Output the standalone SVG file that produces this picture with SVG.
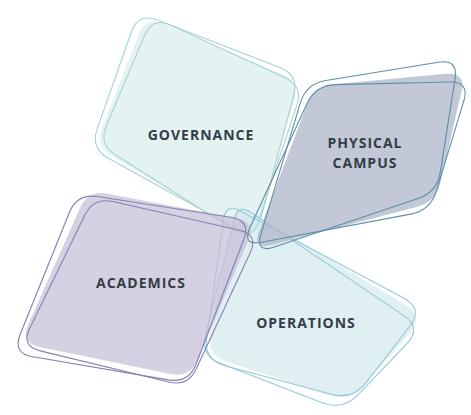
<svg xmlns="http://www.w3.org/2000/svg" xmlns:xlink="http://www.w3.org/1999/xlink" width="471" height="415" viewBox="0 0 471 415">
<style>
.lbl{font-family:"Open Sans","Noto Sans",sans-serif;font-weight:700;font-size:14px;fill:#333d47;letter-spacing:1px;text-anchor:middle}
.ol{fill:none;stroke-width:1.1;vector-effect:non-scaling-stroke}
.gov-f{fill:#cee7e7;fill-opacity:0.55}
.gov-o{stroke:#a6d3d3}
.pc-f{fill:#b4bacc;fill-opacity:0.8}
.pc-o{stroke:#5e8fa6}
.ac-f{fill:#c4bcd7;fill-opacity:0.7}
.ac-o{stroke:#8a7fb0}
.op-f{fill:#cae4e9;fill-opacity:0.6}
.op-o{stroke:#94c9d5}
</style>
<defs>
<path id="govP" d="M164.4,23.9 L281.6,74.1 Q300,82 294.2,101.1 L257.8,220.9 Q252,240 234.8,229.7 L112.2,156.3 Q95,146 102.3,127.4 L138.7,34.6 Q146,16 164.4,23.9 Z"/>
<path id="pcP" d="M333.9,84.2 L446.1,73.8 Q466,72 461.5,91.5 L440.5,182.5 Q436,202 416.7,207 L271.3,245 Q252,250 259.1,231.3 L306.9,104.7 Q314,86 333.9,84.2 Z"/>
<path id="acP" d="M107.6,193.7 L236.4,218.3 Q256,222 248.2,240.4 L197.8,359.6 Q190,378 170.4,374 L39.6,347 Q20,343 28.1,324.7 L79.9,208.3 Q88,190 107.6,193.7 Z"/>
<path id="opP" d="M248.9,210.7 L405.1,304.7 Q424,316 409.7,332.7 L364.3,385.3 Q350,402 329.1,395.2 L226.9,361.8 Q206,355 210.3,333.4 L233.1,217.7 Q236,203 248.9,210.7 Z"/>
</defs>
<g id="connectors"></g>
<g id="governance">
<use xlink:href="#govP" class="gov-f"/>
<use xlink:href="#govP" class="ol gov-o" transform="translate(200 130) rotate(-2) scale(1.03) translate(-200 -130) translate(-2 -2)"/>
<use xlink:href="#govP" class="ol gov-o" transform="translate(200 130) rotate(1.5) scale(0.99) translate(-200 -130) translate(3 1)"/>
<text class="lbl" x="201" y="140">GOVERNANCE</text>
</g>
<g id="operations">
<use xlink:href="#opP" class="op-f"/>
<use xlink:href="#opP" class="ol op-o" transform="translate(315 305) rotate(-3) scale(1.02) translate(-315 -305) translate(-3 -2)"/>
<use xlink:href="#opP" class="ol op-o" transform="translate(315 305) rotate(3) scale(1.01) translate(-315 -305) translate(-2 6)"/>
<text class="lbl" x="306" y="328">OPERATIONS</text>
</g>
<g id="academics">
<use xlink:href="#acP" class="ac-f"/>
<use xlink:href="#acP" class="ol ac-o" transform="translate(140 285) rotate(-2) scale(1.03) translate(-140 -285) translate(-6 4)"/>
<use xlink:href="#acP" class="ol ac-o" transform="translate(140 285) rotate(2) scale(0.99) translate(-140 -285) translate(2 8)"/>
<text class="lbl" x="141" y="288">ACADEMICS</text>
</g>
<g id="physical-campus">
<use xlink:href="#pcP" class="pc-f"/>
<use xlink:href="#pcP" class="ol pc-o" transform="translate(360 160) rotate(-4) scale(1.01) translate(-360 -160) translate(-2 -5)"/>
<use xlink:href="#pcP" class="ol pc-o" transform="translate(360 160) rotate(4) scale(1.01) translate(-360 -160) translate(-3 3)"/>
<text class="lbl" x="365" y="148">PHYSICAL</text>
<text class="lbl" x="365" y="168">CAMPUS</text>
</g>
</svg>
